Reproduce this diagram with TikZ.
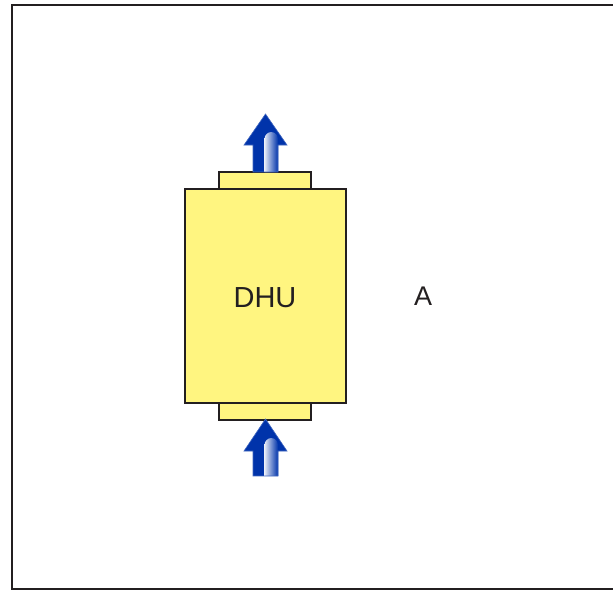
\documentclass[tikz,border=0pt]{standalone}
\usepackage{fontspec}
\setmainfont{Liberation Sans}
\usetikzlibrary{positioning}

\definecolor{dhuyellow}{RGB}{255,245,128}
\definecolor{flowblue}{RGB}{0,51,170}
\definecolor{inkgray}{RGB}{35,31,32}

% upward flow arrow: #1 = centre x, #2 = tip y, #3 = head base y, #4 = foot y
\newcommand{\upflow}[4]{%
  \begin{scope}
    \path[clip] (#1,#2) -- (#1+21.5,#3) -- (#1+12.5,#3) -- (#1+12.5,#4)
      -- (#1-12.5,#4) -- (#1-12.5,#3) -- (#1-21.5,#3) -- cycle;
    \fill[flowblue] (#1-25,#2) rectangle (#1+25,#4);
    \shade[left color=flowblue!10!white, right color=flowblue, rounded corners=7pt]
      (#1-1,#3-13) rectangle (#1+12.5,#4+12);
  \end{scope}
  \draw[flowblue!75, line width=0.6pt] (#1,#2) -- (#1+21.5,#3) -- (#1+12.5,#3) -- (#1+12.5,#4)
      -- (#1-12.5,#4) -- (#1-12.5,#3) -- (#1-21.5,#3) -- cycle;
}

\begin{document}
\begin{tikzpicture}[
  x=1pt, y=-1pt,
  frame/.style={draw=inkgray, line width=2pt},
  dhubox/.style={rectangle, draw=inkgray, fill=dhuyellow, line width=2pt,
                 outer sep=0pt, inner sep=0pt, text=inkgray,
                 font=\fontsize{29}{29}\selectfont},
  capbox/.style={rectangle, draw=inkgray, fill=dhuyellow, line width=2pt,
                 outer sep=0pt, inner sep=0pt,
                 minimum width=92pt, minimum height=17pt},
  lbl/.style={text=inkgray, font=\fontsize{27}{27}\selectfont}
]
  \useasboundingbox (0,0) rectangle (613,590);

  % frame, open on the right
  \draw[frame] (613,4.5) -- (11.5,4.5) -- (11.5,589) -- (613,589);

  % unit
  \node[capbox] (topcap) at (265,180.5) {};
  \node[capbox] (botcap) at (265,411) {};
  \node[dhubox, minimum width=161pt, minimum height=214pt] (dhu) at (265.5,296) {};
  \node[text=inkgray, font=\fontsize{29}{29}\selectfont] (dhulbl) at (265,298) {DHU};

  % air in and out
  \upflow{265.5}{114}{145}{172}
  \upflow{265.5}{419}{451}{476}

  \node[lbl] (side) at (423,296) {A};
\end{tikzpicture}
\end{document}
